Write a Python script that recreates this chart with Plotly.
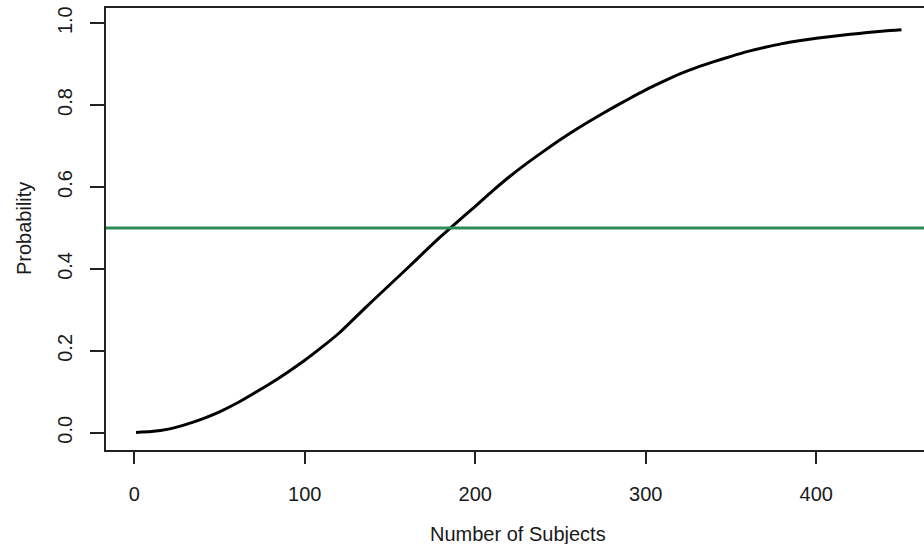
import plotly.graph_objects as go

# Data
subjects = [1, 10, 20, 30, 40, 50, 60, 70, 80, 90, 100, 110, 120, 130, 140, 150,
            160, 170, 180, 190, 200, 210, 220, 230, 240, 250, 260, 270, 280, 290,
            300, 310, 320, 330, 340, 350, 360, 370, 380, 390, 400, 410, 420, 430,
            440, 450]
probability = [0.001, 0.003, 0.009, 0.020, 0.034, 0.051, 0.072, 0.096, 0.121, 0.148,
               0.177, 0.209, 0.243, 0.283, 0.323, 0.362, 0.401, 0.441, 0.480, 0.517,
               0.553, 0.590, 0.625, 0.657, 0.687, 0.716, 0.743, 0.768, 0.792, 0.815,
               0.837, 0.857, 0.876, 0.892, 0.906, 0.919, 0.931, 0.941, 0.950, 0.957,
               0.963, 0.968, 0.973, 0.977, 0.981, 0.984]
threshold = 0.5
x_ticks = [0, 100, 200, 300, 400]
y_ticks = [0.0, 0.2, 0.4, 0.6, 0.8, 1.0]
y_tick_labels = ["0.0", "0.2", "0.4", "0.6", "0.8", "1.0"]

FONT = "Liberation Sans, Arial, sans-serif"
INK = "#1a1a1a"

fig = go.Figure()
fig.add_trace(go.Scatter(
    x=subjects, y=probability, mode="lines", line_shape="spline",
    line=dict(color="black", width=3, smoothing=0.6), showlegend=False, hoverinfo="x+y",
))
fig.add_hline(y=threshold, line=dict(color="#2E8B57", width=3))

fig.update_layout(
    width=924, height=544,
    margin=dict(l=106, r=0, t=8, b=94),
    paper_bgcolor="white", plot_bgcolor="white",
    font=dict(family=FONT, color=INK),
    showlegend=False,
    xaxis=dict(
        range=[-16.6, 463.2], tickvals=x_ticks, ticktext=[str(v) for v in x_ticks],
        showgrid=False, zeroline=False,
        showline=True, linecolor="#222", linewidth=1.5, mirror=True,
        ticks="outside", ticklen=12, tickwidth=1.5, tickcolor="#222",
        tickfont=dict(size=20, family=FONT, color=INK),
        ticklabelstandoff=13,
    ),
    yaxis=dict(
        range=[-0.042, 1.037], tickvals=y_ticks, ticktext=y_tick_labels,
        showgrid=False, zeroline=False,
        showline=True, linecolor="#222", linewidth=1.5,
        ticks="outside", ticklen=14, tickwidth=1.5, tickcolor="#222",
        tickangle=-90,
        tickfont=dict(size=20, family=FONT, color=INK),
        ticklabelstandoff=10,
    ),
    annotations=[
        dict(text="Number of Subjects", xref="paper", yref="paper",
             x=0.5037, y=-0.189, xanchor="center", yanchor="middle",
             showarrow=False, font=dict(size=20, family=FONT, color=INK)),
        dict(text="Probability", xref="paper", yref="paper",
             x=-0.1002, y=0.5, xanchor="center", yanchor="middle", textangle=-90,
             showarrow=False, font=dict(size=20, family=FONT, color=INK)),
    ],
)

fig.write_html(
    "out.html",
    config={"displayModeBar": False},
    post_script="document.body.style.margin='0';"
                "document.documentElement.style.overflow='hidden';",
)
